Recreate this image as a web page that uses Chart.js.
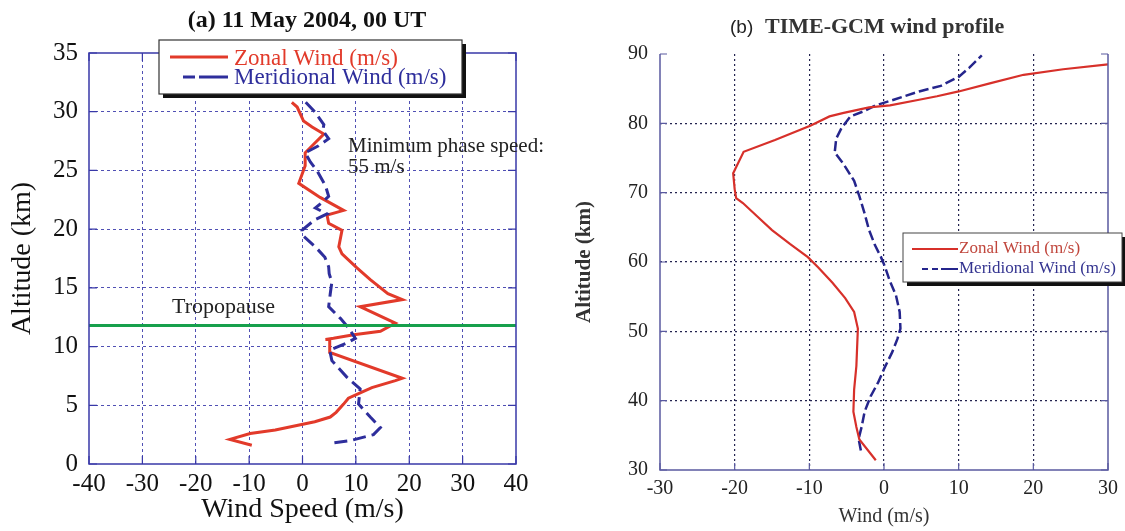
<!DOCTYPE html>
<html><head><meta charset="utf-8">
<script src="https://cdn.jsdelivr.net/npm/chart.js@4.4.0/dist/chart.umd.min.js"></script>
<style>
html,body{margin:0;padding:0;background:#fff;width:1125px;height:531px;overflow:hidden}
#wa{position:absolute;left:0;top:0;width:560px;height:531px}
#wb{position:absolute;left:560px;top:0;width:565px;height:531px}
</style></head><body>
<div id="wa"><canvas id="ca" width="560" height="531"></canvas></div>
<div id="wb"><canvas id="cb" width="565" height="531"></canvas></div>
<script>
// ---------- Panel (a): radiosonde profile, 11 May 2004 00 UT ----------
const altZonalA = [30.8,30.4,29.2,28.7,28.1,26.5,25.4,23.9,22.7,21.6,21.2,20.5,19.9,18.5,17.9,16.7,15.7,14.5,14.0,13.4,12.0,11.3,11.0,10.7,10.6,10.6,9.5,7.3,7.1,6.5,6.0,5.6,5.1,4.4,4.0,3.6,2.9,2.6,2.1,1.6];
const spdZonalA = [-2.0,-1.0,0.2,1.8,4.0,0.5,0.5,-0.7,3.3,7.7,4.6,4.9,7.4,6.8,7.4,10.2,12.7,16.0,18.7,10.8,17.4,14.6,9.6,5.8,4.3,5.1,5.1,18.7,17.4,13.0,10.5,8.6,7.7,6.3,5.2,2.3,-5.1,-9.8,-13.6,-9.5];
const altMeridA = [30.8,30.0,28.9,28.4,27.7,27.1,26.5,25.7,25.0,23.7,22.8,22.4,21.8,21.3,20.8,19.9,19.4,18.4,17.6,16.8,16.2,15.5,14.5,13.4,12.4,11.6,10.7,10.3,9.7,8.8,7.4,6.4,5.1,4.0,3.1,2.5,2.0,1.8];
const spdMeridA = [0.6,2.3,4.0,3.8,4.9,3.0,0.5,1.5,2.7,4.3,4.9,4.0,2.4,4.6,2.3,-0.1,0.2,2.6,4.2,4.9,5.0,5.5,5.2,4.9,7.1,8.6,9.9,8.3,5.1,5.5,8.3,10.8,10.5,12.7,14.6,13.3,9.0,5.8];
const tropopauseAlt = 11.8;
const xRangeA = [-40, 40];
const yRangeA = [0, 35];

// ---------- Panel (b): TIME-GCM wind profile ----------
const altZonalB = [31.4,34.4,36.2,38.4,41.6,45.0,50.4,52.8,54.8,57.0,59.2,60.7,62.6,64.6,66.6,68.5,69.2,70.5,72.8,75.9,77.6,79.7,81.0,81.5,82.3,82.6,83.4,83.9,84.6,85.8,87.0,87.8,88.5];
const spdZonalB = [-1.1,-3.3,-3.7,-4.1,-4.0,-3.7,-3.5,-4.0,-5.2,-6.9,-8.8,-10.2,-12.6,-15.0,-17.0,-18.9,-19.8,-20.0,-20.2,-18.8,-14.6,-9.8,-7.3,-5.4,-2.0,0.8,4.7,7.1,10.0,14.3,18.7,24.0,30.0];
const altMeridB = [32.8,34.5,36.2,38.4,40.6,42.6,44.8,47.0,48.9,50.4,52.8,55.2,57.2,59.4,60.7,62.4,64.6,67.0,69.5,71.7,74.1,75.8,77.8,79.3,81.0,81.7,82.6,83.4,84.6,85.4,86.7,88.0,89.8];
const spdMeridB = [-3.1,-3.4,-3.0,-2.6,-1.8,-0.8,0.1,1.1,1.8,2.2,2.1,1.6,0.8,0.1,-0.4,-1.2,-2.0,-2.6,-3.3,-4.0,-5.4,-6.6,-6.4,-5.7,-4.5,-2.8,-1.1,1.3,4.7,7.6,10.0,11.4,13.1];
const xRangeB = [-30, 30];
const yRangeB = [30, 90];

const legendLabels = ['Zonal Wind (m/s)', 'Meridional Wind (m/s)'];

const SERIF = '"Liberation Serif","Times New Roman",serif';
const SANS = '"Liberation Sans",Arial,sans-serif';
const pts = (alt, spd) => alt.map((a, i) => ({x: spd[i], y: a}));

Chart.defaults.font.family = SERIF;
Chart.defaults.color = '#111';

function edgeTransparent(col, lo, hi) {
  return (c) => (c.tick && (c.tick.value === lo || c.tick.value === hi)) ? 'rgba(0,0,0,0)' : col;
}

// ---------- Chart A ----------
const RED_A = '#e23a2a', BLUE_A = '#2e2e9c', GREEN = '#17a04c', AXIS_A = '#3838a8';
const decoA = {
  id: 'decoA',
  afterDraw(chart) {
    const {ctx, chartArea: ca, scales: {x, y}} = chart;
    ctx.save();
    ctx.strokeStyle = AXIS_A; ctx.lineWidth = 1.5; ctx.setLineDash([]);
    ctx.strokeRect(ca.left, ca.top, ca.right - ca.left, ca.bottom - ca.top);
    ctx.lineWidth = 1.2;
    ctx.beginPath();
    y.ticks.forEach(t => { const p = y.getPixelForValue(t.value);
      ctx.moveTo(ca.left, p); ctx.lineTo(ca.left + 8, p);
      ctx.moveTo(ca.right, p); ctx.lineTo(ca.right - 8, p); });
    x.ticks.forEach(t => { const p = x.getPixelForValue(t.value);
      ctx.moveTo(p, ca.bottom); ctx.lineTo(p, ca.bottom - 8);
      ctx.moveTo(p, ca.top); ctx.lineTo(p, ca.top + 8); });
    ctx.stroke();
    ctx.fillStyle = '#111';
    ctx.font = 'bold 24px ' + SERIF; ctx.textAlign = 'center'; ctx.textBaseline = 'alphabetic';
    ctx.fillText('(a) 11 May 2004, 00 UT', 307, 27);
    ctx.textAlign = 'left'; ctx.textBaseline = 'middle';
    ctx.font = '21px ' + SERIF; ctx.fillStyle = '#222';
    ctx.fillText('Minimum phase speed:', 348, 146);
    ctx.fillText('55 m/s', 348, 167);
    ctx.font = '22px ' + SERIF;
    ctx.fillText('Tropopause', 172, 307);
    const lx = 159, ly = 40, lw = 303, lh = 54;
    ctx.fillStyle = '#111'; ctx.fillRect(lx + 4, ly + 4, lw, lh);
    ctx.fillStyle = '#fff'; ctx.fillRect(lx, ly, lw, lh);
    ctx.strokeStyle = '#333'; ctx.lineWidth = 1.2; ctx.strokeRect(lx, ly, lw, lh);
    ctx.lineWidth = 3;
    ctx.strokeStyle = RED_A; ctx.beginPath(); ctx.moveTo(170, 57); ctx.lineTo(228, 57); ctx.stroke();
    ctx.strokeStyle = BLUE_A; ctx.beginPath();
    ctx.moveTo(183, 77); ctx.lineTo(195, 77); ctx.moveTo(199, 77); ctx.lineTo(228, 77); ctx.stroke();
    ctx.font = '23px ' + SERIF; ctx.textBaseline = 'alphabetic';
    ctx.fillStyle = RED_A; ctx.fillText(legendLabels[0], 234, 65);
    ctx.fillStyle = BLUE_A; ctx.fillText(legendLabels[1], 234, 84);
    ctx.restore();
  }
};

new Chart(document.getElementById('ca'), {
  type: 'scatter',
  data: {
    datasets: [
      {label: 'Tropopause', data: [{x: xRangeA[0], y: tropopauseAlt}, {x: xRangeA[1], y: tropopauseAlt}],
       showLine: true, borderColor: GREEN, borderWidth: 3, pointRadius: 0},
      {label: legendLabels[1], data: pts(altMeridA, spdMeridA), showLine: true,
       borderColor: BLUE_A, borderWidth: 3, borderDash: [13, 6], pointRadius: 0},
      {label: legendLabels[0], data: pts(altZonalA, spdZonalA), showLine: true,
       borderColor: RED_A, borderWidth: 3, pointRadius: 0}
    ]
  },
  options: {
    responsive: false, animation: false, devicePixelRatio: 1,
    layout: {padding: {left: 0, right: 44, top: 53, bottom: 0}},
    plugins: {legend: {display: false}, tooltip: {enabled: false}},
    scales: {
      x: {type: 'linear', min: xRangeA[0], max: xRangeA[1],
          ticks: {stepSize: 10, font: {size: 25}, color: '#111', padding: 5, maxRotation: 0},
          grid: {color: edgeTransparent('#5050b4', xRangeA[0], xRangeA[1]), lineWidth: 1, drawTicks: false},
          border: {display: false, dash: [3, 3]},
          title: {display: true, text: 'Wind Speed (m/s)', font: {size: 28}, color: '#111', padding: {top: 0, bottom: 5}},
          afterFit(s) { s.height = 67; }},
      y: {type: 'linear', min: yRangeA[0], max: yRangeA[1],
          ticks: {stepSize: 5, font: {size: 25}, color: '#111', padding: 11},
          grid: {color: edgeTransparent('#5050b4', yRangeA[0], yRangeA[1]), lineWidth: 1, drawTicks: false},
          border: {display: false, dash: [3, 3]},
          title: {display: true, text: 'Altitude (km)', font: {size: 28}, color: '#111', padding: {top: 6, bottom: 0}},
          afterFit(s) { s.width = 89; }}
    }
  },
  plugins: [decoA]
});

// ---------- Chart B ----------
const RED_B = '#d7302a', BLUE_B = '#25258c', AXIS_B = '#5a5aa0';
const decoB = {
  id: 'decoB',
  afterDraw(chart) {
    const {ctx, chartArea: ca, scales: {x, y}} = chart;
    ctx.save();
    ctx.strokeStyle = AXIS_B; ctx.lineWidth = 1.5; ctx.setLineDash([]);
    ctx.beginPath();
    ctx.moveTo(ca.left, ca.top); ctx.lineTo(ca.left, ca.bottom); ctx.lineTo(ca.right, ca.bottom); ctx.lineTo(ca.right, ca.top);
    ctx.stroke();
    ctx.lineWidth = 1.2;
    ctx.beginPath();
    y.ticks.forEach(t => { const p = y.getPixelForValue(t.value);
      ctx.moveTo(ca.left, p); ctx.lineTo(ca.left + 7, p);
      ctx.moveTo(ca.right, p); ctx.lineTo(ca.right - 7, p); });
    x.ticks.forEach(t => { const p = x.getPixelForValue(t.value);
      ctx.moveTo(p, ca.bottom); ctx.lineTo(p, ca.bottom - 7); });
    ctx.stroke();
    ctx.textBaseline = 'alphabetic'; ctx.textAlign = 'left';
    ctx.fillStyle = '#222'; ctx.font = '19px ' + SANS;
    ctx.fillText('(b)', 170, 33);
    ctx.fillStyle = '#333'; ctx.font = 'bold 22px ' + SERIF;
    ctx.fillText('TIME-GCM wind profile', 205, 33);
    const lx = 343, ly = 233, lw = 219, lh = 49;
    ctx.fillStyle = '#111'; ctx.fillRect(lx + 4, ly + 4, lw, lh);
    ctx.fillStyle = '#fff'; ctx.fillRect(lx, ly, lw, lh);
    ctx.strokeStyle = '#444'; ctx.lineWidth = 1; ctx.strokeRect(lx, ly, lw, lh);
    ctx.lineWidth = 2.2;
    ctx.strokeStyle = RED_B; ctx.beginPath(); ctx.moveTo(352, 249); ctx.lineTo(398, 249); ctx.stroke();
    ctx.strokeStyle = BLUE_B; ctx.beginPath();
    ctx.moveTo(362, 269); ctx.lineTo(368, 269); ctx.moveTo(372, 269); ctx.lineTo(378, 269);
    ctx.moveTo(381, 269); ctx.lineTo(398, 269); ctx.stroke();
    ctx.font = '17px ' + SERIF; ctx.textBaseline = 'middle';
    ctx.fillStyle = '#c0463c'; ctx.fillText(legendLabels[0], 399, 249);
    ctx.fillStyle = '#343490'; ctx.fillText(legendLabels[1], 399, 269);
    ctx.restore();
  }
};

new Chart(document.getElementById('cb'), {
  type: 'scatter',
  data: {
    datasets: [
      {label: legendLabels[0], data: pts(altZonalB, spdZonalB), showLine: true,
       borderColor: RED_B, borderWidth: 2.2, pointRadius: 0},
      {label: legendLabels[1], data: pts(altMeridB, spdMeridB), showLine: true,
       borderColor: BLUE_B, borderWidth: 2.5, borderDash: [10, 4], pointRadius: 0}
    ]
  },
  options: {
    responsive: false, animation: false, devicePixelRatio: 1,
    layout: {padding: {left: 0, right: 15, top: 54, bottom: 0}},
    plugins: {legend: {display: false}, tooltip: {enabled: false}},
    scales: {
      x: {type: 'linear', min: xRangeB[0], max: xRangeB[1],
          ticks: {stepSize: 10, font: {size: 20}, color: '#222', padding: 7, maxRotation: 0},
          grid: {color: edgeTransparent('#23234f', xRangeB[0], xRangeB[1]), lineWidth: 1.2, drawTicks: false},
          border: {display: false, dash: [2, 3]},
          title: {display: true, text: 'Wind (m/s)', font: {size: 20}, color: '#333', padding: {top: 0, bottom: 2}},
          afterFit(s) { s.height = 61; }},
      y: {type: 'linear', min: yRangeB[0], max: yRangeB[1],
          ticks: {stepSize: 10, font: {size: 20}, color: '#222', padding: 12},
          grid: {color: edgeTransparent('#23234f', yRangeB[0], yRangeB[1]), lineWidth: 1.2, drawTicks: false},
          border: {display: false, dash: [2, 3]},
          title: {display: true, text: 'Altitude (km)', font: {size: 21, weight: 'bold'}, color: '#333', padding: {top: 12, bottom: 0}},
          afterFit(s) { s.width = 100; }}
    }
  },
  plugins: [decoB]
});
</script>
</body></html>
